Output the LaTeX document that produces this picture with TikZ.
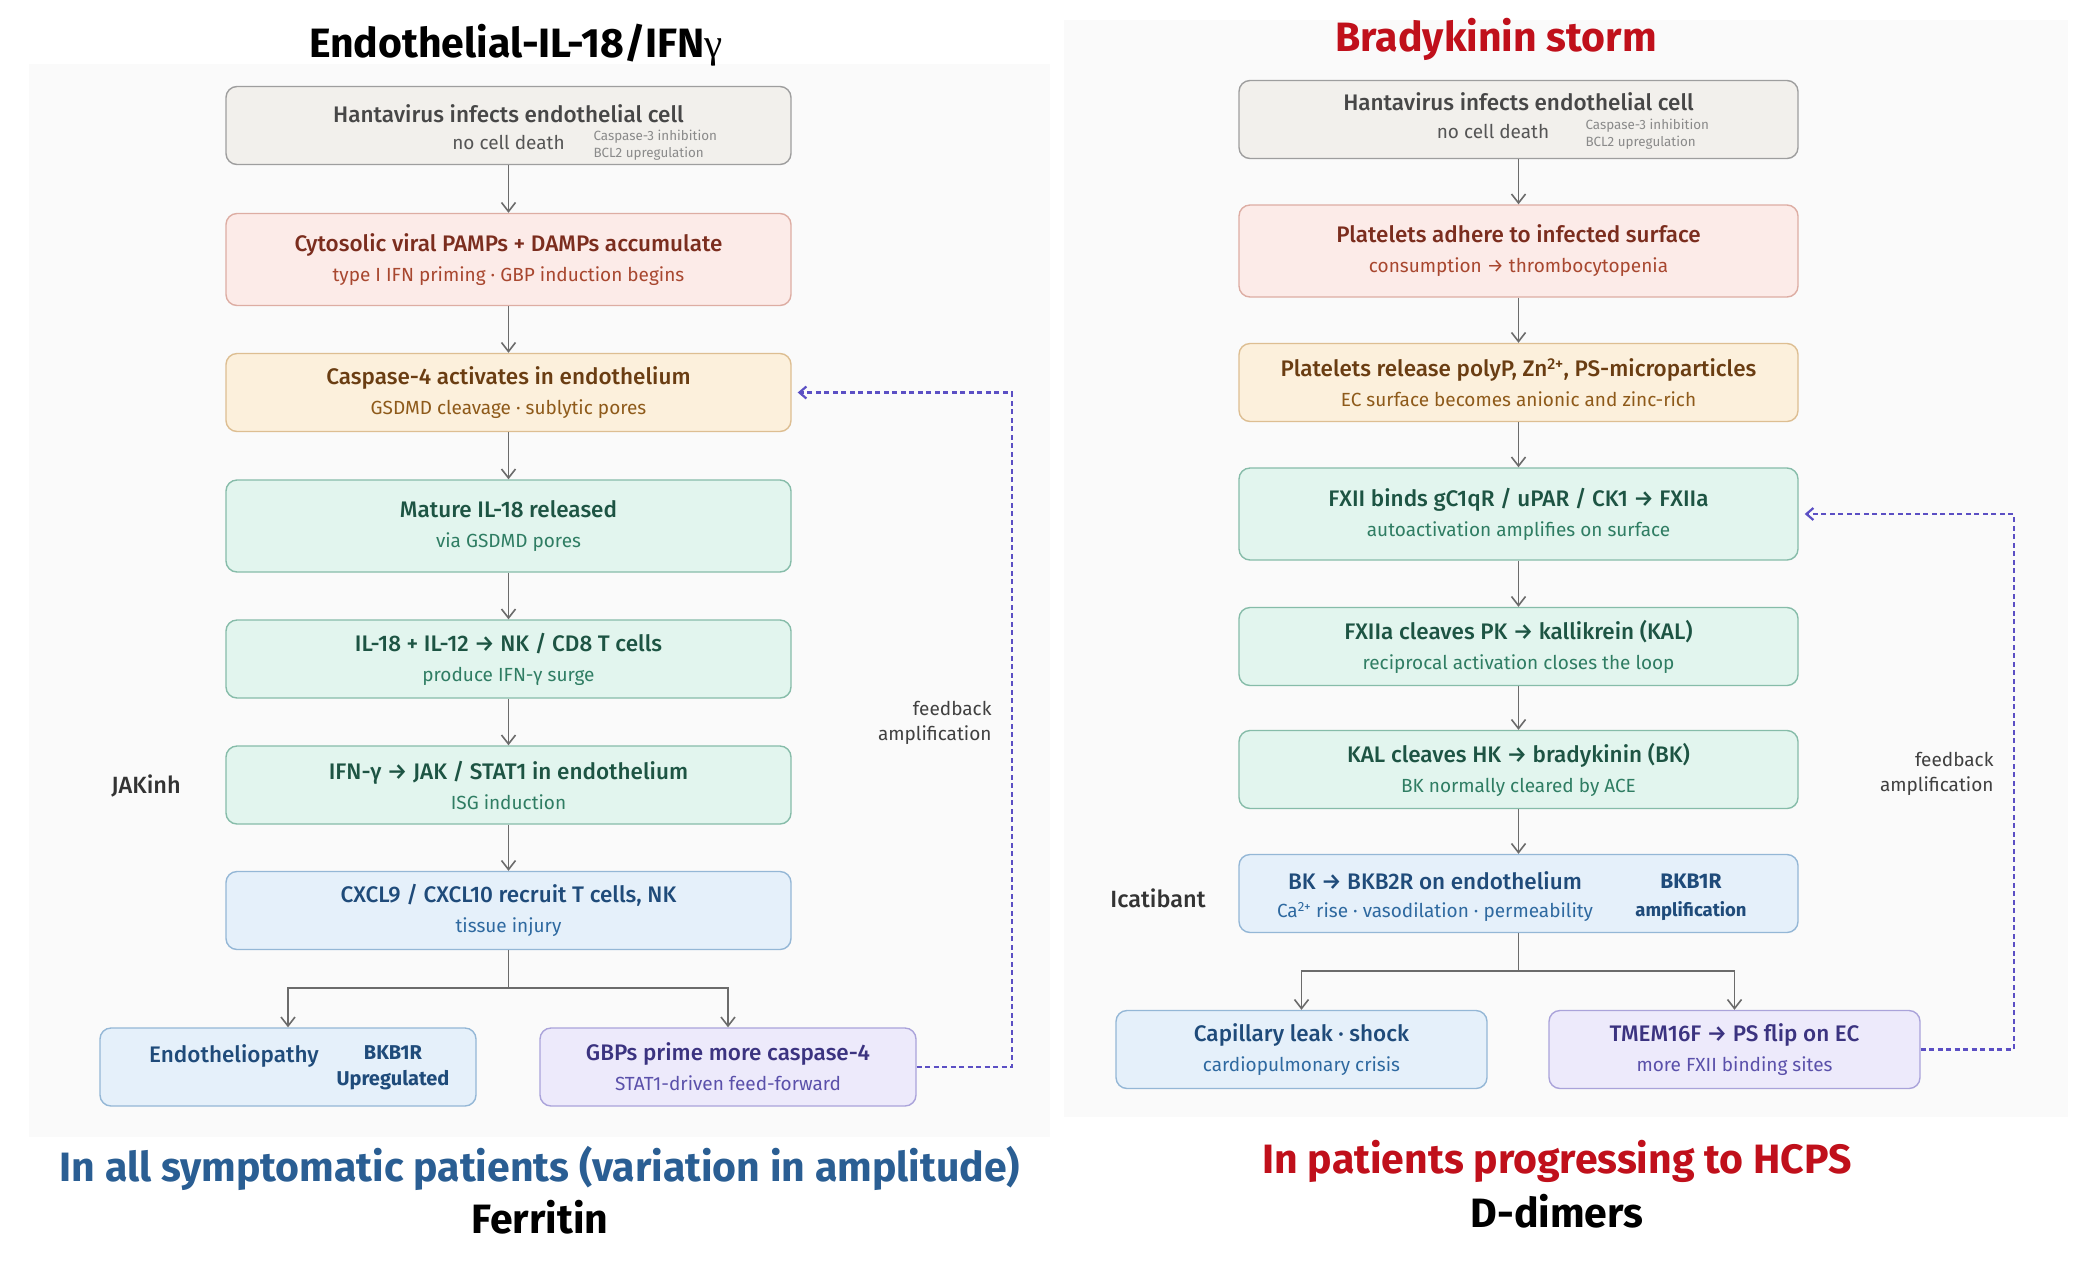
\documentclass[tikz,border=0pt]{standalone}
\usepackage{fontspec}
\setmainfont{Fira Sans}
\newfontfamily\medfont{Fira Sans Medium}
\newfontfamily\gammafont{Liberation Serif}
\usetikzlibrary{arrows.meta,calc}

\definecolor{greyfill}{HTML}{F2F0EC}
\definecolor{greyline}{HTML}{9E9E9E}
\definecolor{greytxt}{HTML}{474747}
\definecolor{greysub}{HTML}{555555}
\definecolor{greynote}{HTML}{8A8A8A}
\definecolor{redfill}{HTML}{FCEBE8}
\definecolor{redline}{HTML}{DDADA3}
\definecolor{redtxt}{HTML}{7B2D1E}
\definecolor{redsub}{HTML}{A8472F}
\definecolor{orgfill}{HTML}{FCF0DC}
\definecolor{orgline}{HTML}{DDBE92}
\definecolor{orgtxt}{HTML}{6A3D12}
\definecolor{orgsub}{HTML}{8E5A1A}
\definecolor{grnfill}{HTML}{E2F5EE}
\definecolor{grnline}{HTML}{86BCA9}
\definecolor{grntxt}{HTML}{1D5443}
\definecolor{grnsub}{HTML}{2F7D63}
\definecolor{bluefill}{HTML}{E5F0FA}
\definecolor{blueline}{HTML}{94B7D6}
\definecolor{bluetxt}{HTML}{1F4B7A}
\definecolor{bluesub}{HTML}{2E69A0}
\definecolor{purfill}{HTML}{EDEAFB}
\definecolor{purline}{HTML}{AAA3DA}
\definecolor{purtxt}{HTML}{3B3380}
\definecolor{pursub}{HTML}{5A50AA}
\definecolor{fbline}{HTML}{5B4FC4}
\definecolor{flowgray}{HTML}{6B6B6B}
\definecolor{leftblue}{HTML}{2A5E93}
\definecolor{stormred}{HTML}{C0101B}

\newcommand{\stage}[2]{{\medfont\fontsize{22.5}{30}\selectfont #1}\\{\color{subtxt}#2}}

\begin{document}
\begin{tikzpicture}[x=1pt, y=-1pt,
    stepbox/.style={draw, rounded corners=11pt, line width=1.4pt, minimum width=565pt,
      minimum height=78pt, align=center, inner sep=0pt, node font=\fontsize{19}{30}\selectfont},
    tallbox/.style={minimum height=92pt},
    greybox/.style={stepbox, fill=greyfill, draw=greyline, text=greytxt},
    redbox/.style={stepbox, fill=redfill, draw=redline, text=redtxt, execute at begin node={\colorlet{subtxt}{redsub}}},
    orgbox/.style={stepbox, fill=orgfill, draw=orgline, text=orgtxt, execute at begin node={\colorlet{subtxt}{orgsub}}},
    grnbox/.style={stepbox, fill=grnfill, draw=grnline, text=grntxt, execute at begin node={\colorlet{subtxt}{grnsub}}},
    bluebox/.style={stepbox, fill=bluefill, draw=blueline, text=bluetxt, execute at begin node={\colorlet{subtxt}{bluesub}}},
    purbox/.style={stepbox, fill=purfill, draw=purline, text=purtxt, execute at begin node={\colorlet{subtxt}{pursub}}},
    flow/.style={draw=flowgray, line width=1.6pt, -{Straight Barb[length=9pt,width=14pt]}},
    feedback/.style={draw=fbline, line width=2.2pt, dash pattern=on 5pt off 3.5pt,
      -{Straight Barb[length=7pt,width=12pt]}, shorten >=6pt},
    bigtitle/.style={font=\bfseries\fontsize{41}{46}\selectfont},
    sidelabel/.style={font=\medfont\fontsize{23.5}{28}\selectfont, text=black!80},
    fblabel/.style={align=right, anchor=east, font=\fontsize{19}{25}\selectfont, text=black!75}]

    \useasboundingbox (0,0) rectangle (2085,1262);

    % Panel backgrounds
    \fill[black!2] (29,64) rectangle (1050,1137);
    \fill[black!2] (1064,20) rectangle (2068,1117);

    % Left panel: IL-18 / IFN-gamma chain
    \node[bigtitle] (lefttitle) at (516,45) {Endothelial-IL-18/IFN{\mdseries\gammafont γ}};

    \node[greybox] (b1) at (508.5,125.5) {};
    \node[text=greytxt, font=\medfont\fontsize{22.5}{26}\selectfont] (b1title) at (508.5,114) {Hantavirus infects endothelial cell};
    \node[text=greysub, font=\fontsize{19}{22}\selectfont] (b1sub) at (508.5,142) {no cell death};
    \node[text=greynote, anchor=west, align=left, font=\fontsize{13.4}{17}\selectfont] (b1note) at (590,145) {Caspase-3 inhibition\\BCL2 upregulation};

    \node[redbox, tallbox] (b2) at (508.5,259.5) {\stage{Cytosolic viral PAMPs + DAMPs accumulate}{type I IFN priming · GBP induction begins}};
    \node[orgbox] (b3) at (508.5,392.5) {\stage{Caspase-4 activates in endothelium}{GSDMD cleavage · sublytic pores}};
    \node[grnbox, tallbox] (b4) at (508.5,526) {\stage{Mature IL-18 released}{via GSDMD pores}};
    \node[grnbox] (b5) at (508.5,659) {\stage{IL-18 + IL-12 → NK / CD8 T cells}{produce IFN-γ surge}};
    \node[grnbox] (b6) at (508.5,785) {\stage{IFN-γ → JAK / STAT1 in endothelium}{ISG induction}};
    \node[bluebox] (b7) at (508.5,910.5) {\stage{CXCL9 / CXCL10 recruit T cells, NK}{tissue injury}};

    \node[bluebox, minimum width=376pt] (b8) at (288,1067) {};
    \node[text=bluetxt, font=\medfont\fontsize{22.5}{26}\selectfont] (b8title) at (234,1056) {Endotheliopathy};
    \node[text=bluetxt, align=center, font=\bfseries\fontsize{20}{26}\selectfont] (b8note) at (393,1068) {BKB1R\\Upregulated};
    \node[purbox, minimum width=376pt] (b9) at (728,1067) {\stage{GBPs prime more caspase-4}{STAT1-driven feed-forward}};

    \node[sidelabel] (jak) at (146,786) {JAKinh};
    \node[fblabel] (leftfb) at (995,723) {feedback\\amplification};

    \foreach \a/\b in {b1/b2, b2/b3, b3/b4, b4/b5, b5/b6, b6/b7}
      \draw[flow] (\a) -- (\b);
    \coordinate (leftfork) at (508.5,988);
    \draw[draw=flowgray, line width=1.6pt] (b7.south) -- (leftfork);
    \draw[flow] (leftfork) -| (b8.north);
    \draw[flow] (leftfork) -| (b9.north);
    \draw[feedback] (b9.east) -- ++(95,0) |- (b3.east);

    \node[bigtitle, text=leftblue] (leftgroup) at (540,1168) {In all symptomatic patients (variation in amplitude)};
    \node[bigtitle] (leftmarker) at (540,1217) {Ferritin};

    % Right panel: bradykinin storm
    \node[bigtitle, text=stormred] (righttitle) at (1496,39) {Bradykinin storm};

    \node[greybox, minimum width=559pt] (r1) at (1518.5,119.5) {};
    \node[text=greytxt, font=\medfont\fontsize{22.5}{26}\selectfont] (r1title) at (1518.5,102) {Hantavirus infects endothelial cell};
    \node[text=greysub, font=\fontsize{19}{22}\selectfont] (r1sub) at (1493,131) {no cell death};
    \node[text=greynote, anchor=west, align=left, font=\fontsize{13.4}{17}\selectfont] (r1note) at (1582,134) {Caspase-3 inhibition\\BCL2 upregulation};

    \node[redbox, tallbox, minimum width=559pt] (r2) at (1518.5,251) {\stage{Platelets adhere to infected surface}{consumption → thrombocytopenia}};
    \node[orgbox, minimum width=559pt] (r3) at (1518.5,382.5) {\stage{Platelets release polyP, Zn\textsuperscript{2+}, PS-microparticles}{EC surface becomes anionic and zinc-rich}};
    \node[grnbox, tallbox, minimum width=559pt] (r4) at (1518.5,514) {\stage{FXII binds gC1qR / uPAR / CK1 → FXIIa}{autoactivation amplifies on surface}};
    \node[grnbox, minimum width=559pt] (r5) at (1518.5,646.5) {\stage{FXIIa cleaves PK → kallikrein (KAL)}{reciprocal activation closes the loop}};
    \node[grnbox, minimum width=559pt] (r6) at (1518.5,769.5) {\stage{KAL cleaves HK → bradykinin (BK)}{BK normally cleared by ACE}};

    \node[bluebox, minimum width=559pt] (r7) at (1518.5,893.5) {};
    \node[text=bluetxt, align=center, font=\fontsize{19}{28}\selectfont] (r7text) at (1435,897) {{\medfont\fontsize{22.5}{28}\selectfont BK → BKB2R on endothelium}\\{\color{bluesub}Ca\textsuperscript{2+} rise · vasodilation · permeability}};
    \node[text=bluetxt, align=center, font=\bfseries\fontsize{18.5}{28}\selectfont] (r7note) at (1691,897) {{\fontsize{21}{28}\selectfont BKB1R}\\amplification};

    \node[bluebox, minimum width=371pt] (r8) at (1301.5,1049.5) {\stage{Capillary leak · shock}{cardiopulmonary crisis}};
    \node[purbox, minimum width=371pt] (r9) at (1734.5,1049.5) {\stage{TMEM16F → PS flip on EC}{more FXII binding sites}};

    \node[sidelabel] (icat) at (1158,898) {Icatibant};
    \node[fblabel] (rightfb) at (1997,774) {feedback\\amplification};

    \foreach \a/\b in {r1/r2, r2/r3, r3/r4, r4/r5, r5/r6, r6/r7}
      \draw[flow] (\a) -- (\b);
    \coordinate (rightfork) at (1518.5,971);
    \draw[draw=flowgray, line width=1.6pt] (r7.south) -- (rightfork);
    \draw[flow] (rightfork) -| (r8.north);
    \draw[flow] (rightfork) -| (r9.north);
    \draw[feedback] (r9.east) -- ++(93,0) |- (r4.east);

    \node[bigtitle, text=stormred] (rightgroup) at (1557,1161) {In patients progressing to HCPS};
    \node[bigtitle] (rightmarker) at (1557,1211) {D-dimers};
\end{tikzpicture}
\end{document}
